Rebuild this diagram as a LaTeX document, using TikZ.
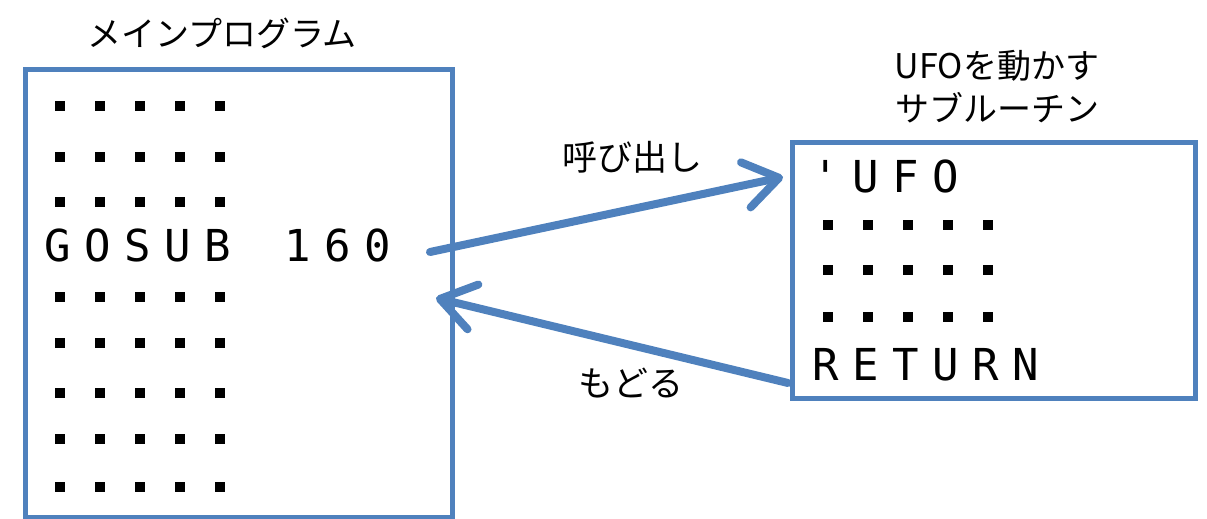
\documentclass[tikz,border=0pt]{standalone}
\usepackage{fontspec}
\setmainfont{Noto Sans CJK JP}
\newfontfamily\pix{DejaVu Sans Mono}
\usetikzlibrary{arrows.meta}
\definecolor{boxblue}{RGB}{79,129,189}
\newcommand\cc[1]{\makebox[40pt][c]{#1}}
\begin{document}
\begin{tikzpicture}[x=1pt,y=-1pt,
  box/.style={draw=boxblue, line width=5pt, inner sep=0pt, fill=white},
  title/.style={font=\fontsize{34pt}{43pt}\selectfont, inner sep=0pt, align=center},
  code/.style={font=\pix\fontsize{44pt}{44pt}\selectfont, inner sep=0pt, anchor=west},
  arr/.style={draw=boxblue, line width=8pt, line cap=round,
    -{Straight Barb[length=34pt,width=46pt,round]}}]
\useasboundingbox (0,0) rectangle (1207,519);
% boxes
\node[box, minimum width=427pt, minimum height=447pt] (main) at (238.5,293.5) {};
\node[box, minimum width=403pt, minimum height=256pt] (sub) at (993.5,270) {};
% titles
\node[title] (mainT) at (222,33) {メインプログラム};
\node[title] (subT) at (997,86.5) {UFOを動かす\\サブルーチン};
% code lines
\node[code] (gosub) at (38,245) {\cc{G}\cc{O}\cc{S}\cc{U}\cc{B}\cc{ }\cc{1}\cc{6}\cc{0}};
\node[code] (ufo) at (806,176) {\cc{'}\cc{U}\cc{F}\cc{O}};
\node[code] (ret) at (806,365) {\cc{R}\cc{E}\cc{T}\cc{U}\cc{R}\cc{N}};
% dot rows
\foreach \y in {106,157,202,297,343,393,439,487}
  \foreach \i in {0,...,4}
    \fill[black] (60+40*\i-5,\y-5) rectangle (60+40*\i+5,\y+5);
\foreach \y in {225,270,317}
  \foreach \i in {0,...,4}
    \fill[black] (828+40*\i-5,\y-5) rectangle (828+40*\i+5,\y+5);
% labels
\node[title, font=\fontsize{35pt}{43pt}\selectfont] (callL) at (632,157) {呼び出し};
\node[title, font=\fontsize{35pt}{43pt}\selectfont] (retL) at (631,383) {もどる};
% arrows
\coordinate (callS) at (430,252);
\coordinate (callE) at (783,177);
\coordinate (retS) at (788,383);
\coordinate (retE) at (436,298);
\draw[arr] (callS) -- (callE);
\draw[arr] (retS) -- (retE);
\end{tikzpicture}
\end{document}
